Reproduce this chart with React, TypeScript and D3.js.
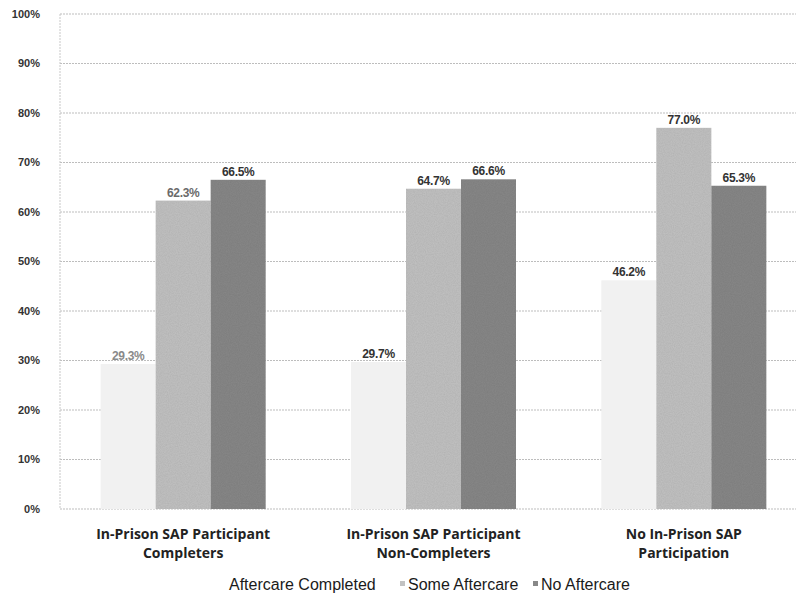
import React from "react";
import * as d3 from "d3";

const categories = [
  ["In-Prison SAP Participant", "Completers"],
  ["In-Prison SAP Participant", "Non-Completers"],
  ["No In-Prison SAP", "Participation"],
];
const seriesNames = ["Aftercare Completed", "Some Aftercare", "No Aftercare"];
const aftercareCompleted = [29.3, 29.7, 46.2];
const someAftercare = [62.3, 64.7, 77.0];
const noAftercare = [66.5, 66.6, 65.3];
const yTicks = [0, 10, 20, 30, 40, 50, 60, 70, 80, 90, 100];

const seriesValues = [aftercareCompleted, someAftercare, noAftercare];
const fills = ["#f1f1f1", "#c2c2c2", "#888888"];
const labelColors = ["#8a8a8a", "#6a6a6a", "#333"];

const W = 796;
const H = 596;
const plotLeft = 58;
const plotRight = 809;
const plotTop = 14;
const plotBottom = 509;

export default function App() {
  const x0 = d3
    .scaleBand<number>()
    .domain(d3.range(categories.length))
    .range([plotLeft, plotRight])
    .paddingInner(0)
    .paddingOuter(0);
  const groupW = 165;
  const x1 = d3
    .scaleBand<number>()
    .domain(d3.range(seriesValues.length))
    .range([0, groupW])
    .padding(0);
  const y = d3.scaleLinear().domain([0, 100]).range([plotBottom, plotTop]);
  const fmt = (v: number) => `${v.toFixed(1)}%`;

  return (
    <svg
      width={W}
      height={H}
      style={{ position: "absolute", left: 0, top: 0, background: "#fff" }}
      fontFamily="'Liberation Sans', Arial, sans-serif"
    >
      <defs>
        <filter id="grain" x="0" y="0" width="100%" height="100%">
          <feTurbulence type="fractalNoise" baseFrequency="0.9" numOctaves="2" seed="3" result="n" />
          <feColorMatrix
            in="n"
            type="matrix"
            values="0 0 0 0 0  0 0 0 0 0  0 0 0 0 0  0 0 0 0.18 0"
            result="na"
          />
          <feComposite in="na" in2="SourceGraphic" operator="in" result="nc" />
          <feMerge>
            <feMergeNode in="SourceGraphic" />
            <feMergeNode in="nc" />
          </feMerge>
        </filter>
      </defs>

      {/* gridlines */}
      {yTicks.map((t) => (
        <line
          key={t}
          x1={plotLeft + 2}
          x2={W}
          y1={y(t)}
          y2={y(t)}
          stroke="#bdbdbd"
          strokeWidth={1}
          strokeDasharray="2 1"
        />
      ))}
      <line
        x1={plotLeft + 2}
        x2={plotLeft + 2}
        y1={plotTop}
        y2={plotBottom}
        stroke="#c8c8c8"
        strokeDasharray="2 1"
      />

      {/* y tick labels */}
      {yTicks.map((t) => (
        <text
          key={t}
          x={40}
          y={y(t)}
          dy="0.35em"
          textAnchor="end"
          fontSize={11}
          fontWeight="bold"
          fill="#333"
        >
          {t}%
        </text>
      ))}

      {/* bars */}
      {categories.map((_, ci) => {
        const gx = (x0(ci) as number) + x0.bandwidth() / 2 - groupW / 2;
        return (
          <g key={ci} transform={`translate(${gx},0)`}>
            {seriesValues.map((vals, si) => {
              const v = vals[ci];
              const bx = x1(si) as number;
              return (
                <g key={si}>
                  <rect
                    x={bx}
                    y={y(v)}
                    width={x1.bandwidth()}
                    height={plotBottom - y(v)}
                    fill={fills[si]}
                    filter={si > 0 ? "url(#grain)" : undefined}
                  />
                  <text
                    x={bx + x1.bandwidth() / 2}
                    y={y(v) - 4}
                    textAnchor="middle"
                    fontSize={12}
                    fontWeight="bold"
                    fill={ci === 0 ? labelColors[si] : "#333"}
                    letterSpacing={-0.3}
                  >
                    {fmt(v)}
                  </text>
                </g>
              );
            })}
          </g>
        );
      })}

      {/* category labels */}
      {categories.map((lines, ci) => {
        const cx = (x0(ci) as number) + x0.bandwidth() / 2;
        return (
          <text
            key={ci}
            x={cx}
            textAnchor="middle"
            fontSize={14}
            fontWeight="bold"
            fill="#222"
            fontFamily="'Open Sans', sans-serif"
          >
            {lines.map((l, li) => (
              <tspan key={li} x={cx} y={539 + li * 19}>
                {l}
              </tspan>
            ))}
          </text>
        );
      })}

      {/* legend */}
      {(() => {
        const items = [
          { x: 229, marker: false },
          { x: 408, marker: true },
          { x: 541, marker: true },
        ];
        return seriesNames.map((name, i) => (
          <g key={name}>
            {items[i].marker && (
              <rect
                x={items[i].x - 8}
                y={581}
                width={5}
                height={5}
                fill={fills[i]}
              />
            )}
            <text x={items[i].x} y={590} fontSize={16} fill="#1a1a1a">
              {name}
            </text>
          </g>
        ));
      })()}
    </svg>
  );
}
